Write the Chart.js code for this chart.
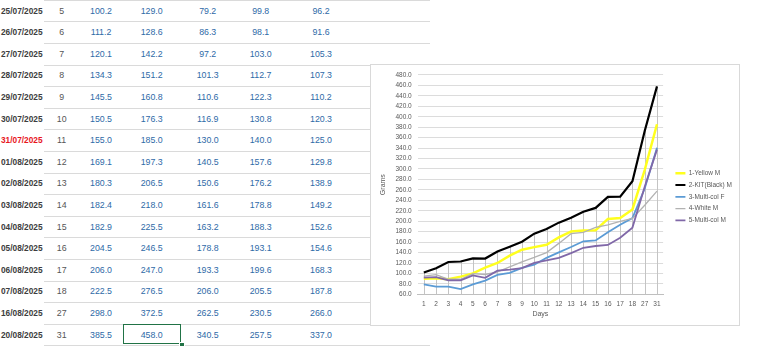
<!DOCTYPE html>
<html><head><meta charset="utf-8">
<script src="https://cdn.jsdelivr.net/npm/chart.js@4"></script>
<style>
html,body{margin:0;padding:0;background:#fff;width:768px;height:351px;overflow:hidden;font-family:"Liberation Sans",Arial,sans-serif;}
#sheet{position:absolute;left:0;top:0;width:768px;height:351px;}
.rl{position:absolute;height:1px;background:#dadada;}
.c{position:absolute;height:21.6px;line-height:21.6px;font-size:8.8px;white-space:nowrap;}
.dt{font-weight:bold;font-size:8.3px;color:#3d3d3d;left:1px;}
.dn{color:#555;text-align:center;width:30px;}
.vv{color:#2e6aa7;text-align:center;width:50px;}
#sel{position:absolute;left:123px;top:324px;width:56px;height:18px;border:1.5px solid #217346;}
#hdl{position:absolute;left:179px;top:341.5px;width:3.5px;height:3.5px;background:#217346;border:1px solid #fff;}
#box{position:absolute;left:370px;top:64px;width:368px;height:260px;border:1px solid #d9d9d9;background:#fff;}
canvas{display:block;}
</style></head>
<body>
<div id="sheet"></div>
<div id="box"><canvas id="c" width="368" height="260"></canvas></div>
<script>
// ---- data ----
const days = ['1','2','3','4','5','6','7','8','9','10','11','12','13','14','15','16','17','18','27','31'];
const yellowM = [90, 91, 89, 94, 100.2, 111.2, 120.1, 134.3, 145.5, 150.5, 155.0, 169.1, 180.3, 182.4, 182.9, 204.5, 206.0, 222.5, 298.0, 385.5];
const blackM  = [102, 110, 122, 123, 129.0, 128.6, 142.2, 151.2, 160.8, 176.3, 185.0, 197.3, 206.5, 218.0, 225.5, 246.5, 247.0, 276.5, 372.5, 458.0];
const multiF  = [79, 75, 75, 70, 79.2, 86.3, 97.2, 101.3, 110.6, 116.9, 130.0, 140.5, 150.6, 161.6, 163.2, 178.8, 193.3, 206.0, 262.5, 340.5];
const whiteM  = [95, 98, 89, 89, 99.8, 98.1, 103.0, 112.7, 122.3, 130.8, 140.0, 157.6, 176.2, 178.8, 188.3, 193.1, 199.6, 205.5, 230.5, 257.5];
const multiM  = [92, 93, 87, 87, 96.2, 91.6, 105.3, 107.3, 110.2, 120.3, 125.0, 129.8, 138.9, 149.2, 152.6, 154.6, 168.3, 187.8, 266.0, 337.0];
const seriesNames = ['1-Yellow M','2-KIT(Black) M','3-Multi-col F','4-White M','5-Multi-col M'];
const tableDates = ['25/07/2025','26/07/2025','27/07/2025','28/07/2025','29/07/2025','30/07/2025','31/07/2025','01/08/2025','02/08/2025','03/08/2025','04/08/2025','05/08/2025','06/08/2025','07/08/2025','16/08/2025','20/08/2025'];
const redDate = '31/07/2025';
const yTicks = {min: 60, max: 480, step: 20};

// ---- spreadsheet table ----
const sheet = document.getElementById('sheet');
const RH = 21.6;
const allSeries = [yellowM, blackM, multiF, whiteM, multiM];
const colX = [101, 151.7, 207.7, 260.7, 321];
const firstIdx = days.length - tableDates.length;
function add(cls, style, text){const d=document.createElement('div');d.className=cls;Object.assign(d.style,style);if(text!==undefined)d.textContent=text;sheet.appendChild(d);return d;}
add('rl',{left:'44px',top:'0px',width:'386px'});
tableDates.forEach((dt,i)=>{
  const top = 0.6 + RH*i;
  const d = add('c dt',{top:top+'px'},dt);
  if(dt===redDate) d.style.color='#e8151d';
  add('c dn',{top:top+'px',left:(61.7-15)+'px'},days[firstIdx+i]);
  allSeries.forEach((s,k)=>add('c vv',{top:top+'px',left:(colX[k]-25)+'px'},s[firstIdx+i].toFixed(1)));
  add('rl',{left:'44px',top:(RH*(i+1)-0.2)+'px',width:'386px'});
});
const sel=document.createElement('div');sel.id='sel';sheet.appendChild(sel);
const hdl=document.createElement('div');hdl.id='hdl';sheet.appendChild(hdl);

// ---- chart ----
const colors = ['#ffff1e','#000000','#5b9bd5','#b2b2b2','#8068a8'];
const widths = [2.5, 2.2, 1.8, 1.3, 1.8];
const font = "'Liberation Sans', Arial, sans-serif";

const dropLines = {
  id: 'dropLines',
  beforeDatasetsDraw(chart){
    const {ctx, scales:{x,y}} = chart;
    ctx.save();
    ctx.strokeStyle = '#c4c4c4'; ctx.lineWidth = 1;
    chart.data.labels.forEach((l,i)=>{
      const mx = Math.max(...chart.data.datasets.map(d=>d.data[i]));
      const px = Math.round(x.getPixelForValue(i))+0.5;
      ctx.beginPath(); ctx.moveTo(px, y.getPixelForValue(mx)); ctx.lineTo(px, y.bottom); ctx.stroke();
    });
    ctx.restore();
  }
};
const legendShift = {
  id: 'legendShift',
  afterLayout(chart){
    const lg = chart.legend; if(!lg) return;
    lg.left += 7; lg.right += 7;
  }
};

new Chart(document.getElementById('c'), {
  type: 'line',
  data: {
    labels: days,
    datasets: allSeries.map((s,k)=>({
      label: seriesNames[k], data: s, borderColor: colors[k], backgroundColor: colors[k],
      borderWidth: widths[k], pointRadius: 0, tension: 0, fill: false, order: 5-k
    }))
  },
  options: {
    responsive: false, animation: false,
    layout: {padding: {left: 6, right: 4, top: 6.6, bottom: 3}},
    plugins: {
      legend: {
        position: 'right', align: 'center',
        labels: {usePointStyle: true, pointStyle: 'line', pointStyleWidth: 10, padding: 5.3,
                 color: '#595959', font: {family: font, size: 6.5},
                 sort: (a,b)=>a.datasetIndex-b.datasetIndex}
      },
      tooltip: {enabled: false}
    },
    scales: {
      x: {
        offset: true,
        grid: {display: false, drawTicks: false},
        border: {display: true, color: '#bfbfbf'},
        ticks: {color: '#595959', font: {family: font, size: 6.5}, padding: 5.7, maxRotation: 0, autoSkip: false},
        title: {display: true, text: 'Days', color: '#595959', font: {family: font, size: 7}, padding: {top: -4, bottom: 4}}
      },
      y: {
        min: yTicks.min, max: yTicks.max,
        grid: {color: '#dcdcdc', drawTicks: false},
        border: {display: false},
        ticks: {stepSize: yTicks.step, autoSkip: false, color: '#595959', font: {family: font, size: 6.5}, padding: 6,
                callback: v => Number(v).toFixed(1)},
        title: {display: true, text: 'Grams', color: '#595959', font: {family: font, size: 7}, padding: {top: 2, bottom: 2}}
      }
    }
  },
  plugins: [dropLines, legendShift]
});
</script>
</body></html>
